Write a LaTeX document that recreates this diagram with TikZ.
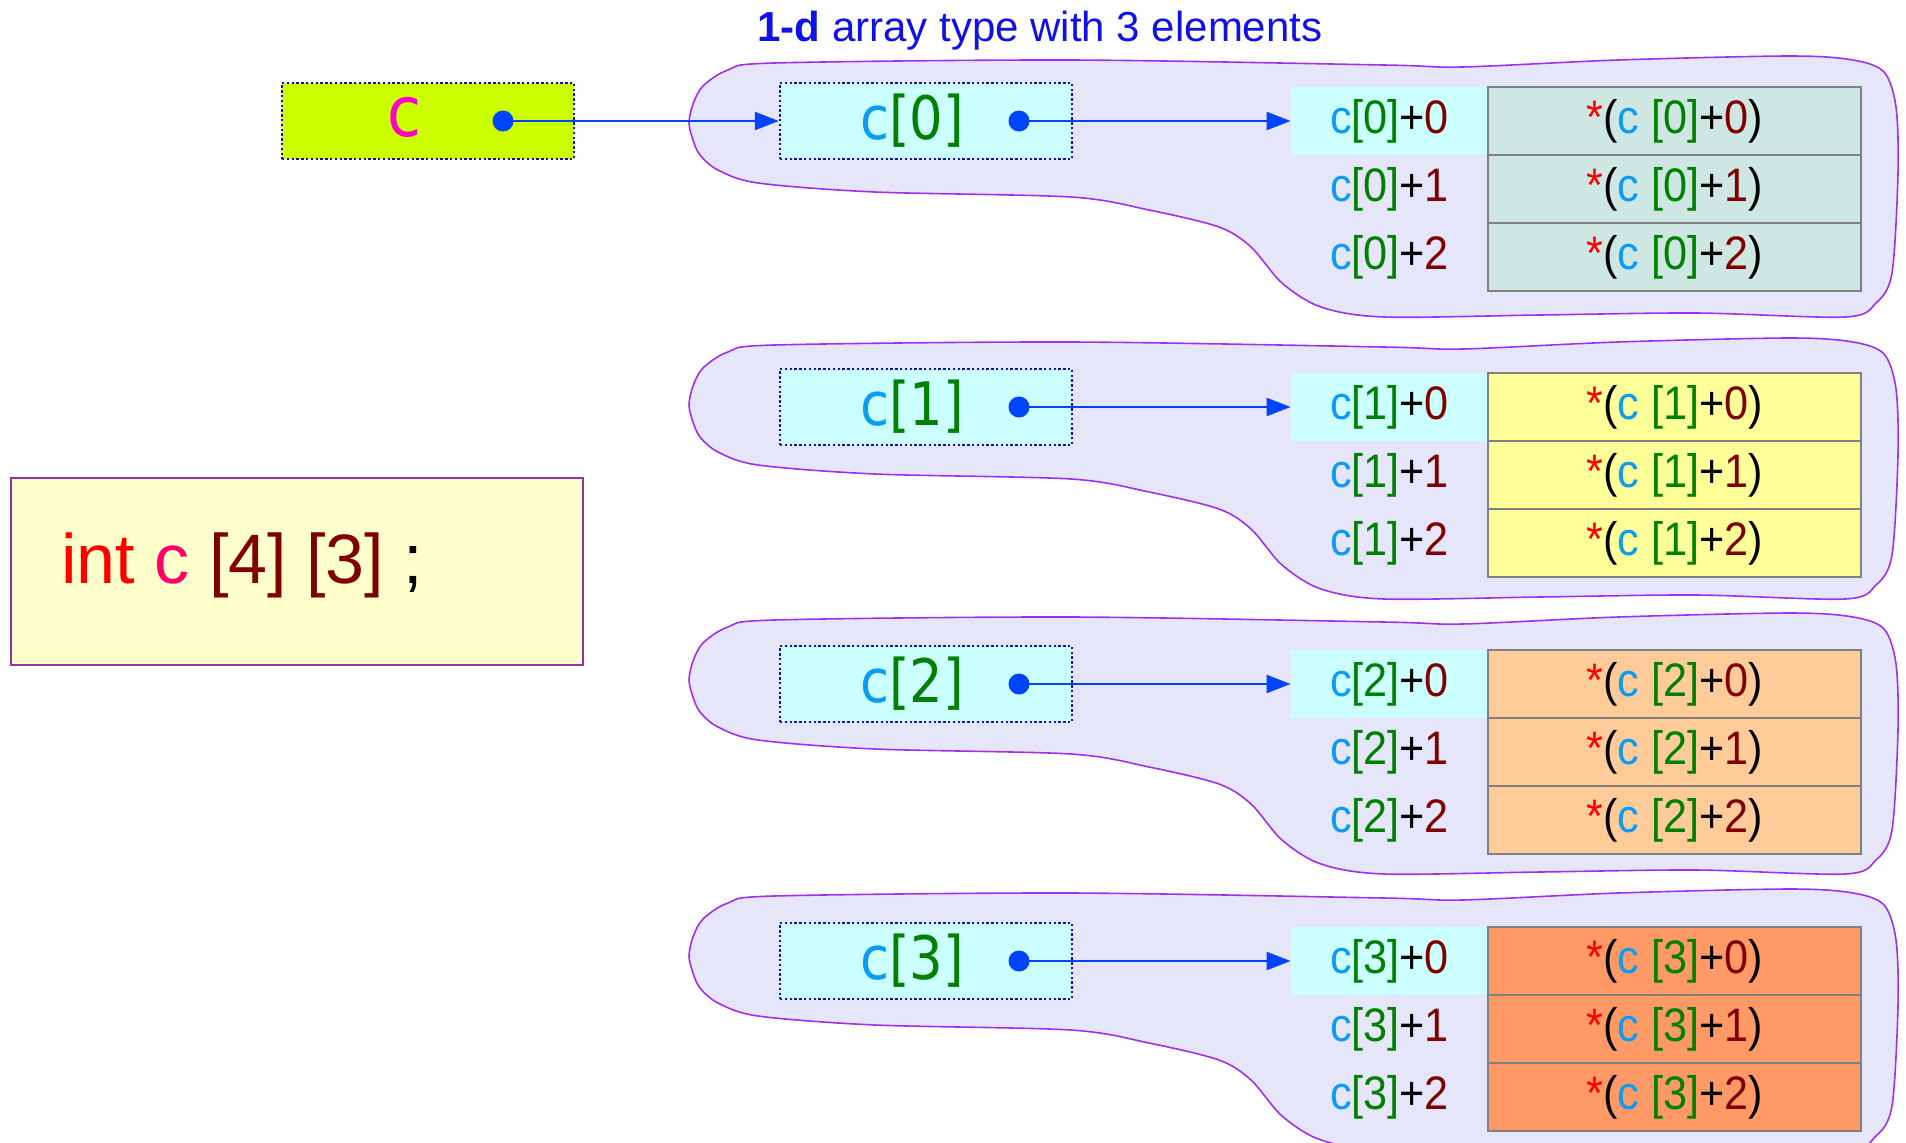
\documentclass[tikz,border=0pt]{standalone}
\usepackage{fontspec}
\setmainfont{Liberation Sans}
\newfontfamily\narrowsans[FakeStretch=0.92]{Liberation Sans}
\newfontfamily\bigfont[FakeStretch=0.88]{DejaVu Sans}
\usetikzlibrary{arrows.meta}
\definecolor{titleblue}{HTML}{1010E8}
\definecolor{cboxfill}{HTML}{CCFF00}
\definecolor{boxline}{HTML}{1010C0}
\definecolor{magc}{HTML}{FF00CC}
\definecolor{cyanfill}{HTML}{CCFFFF}
\definecolor{cblue}{HTML}{0A9BF5}
\definecolor{cgreen}{HTML}{008000}
\definecolor{dred}{HTML}{800000}
\definecolor{arrowblue}{HTML}{0044FF}
\definecolor{rowA}{HTML}{CFE7E3}
\definecolor{rowB}{HTML}{FFFF99}
\definecolor{rowC}{HTML}{FFCC99}
\definecolor{rowD}{HTML}{FF9966}
\definecolor{blobfill}{HTML}{E6E6FA}
\definecolor{blobline}{HTML}{A030F0}
\definecolor{intfill}{HTML}{FFFFCC}
\definecolor{intline}{HTML}{993399}
\definecolor{cpink}{HTML}{FF0066}
\newcommand\celllbl[2]{\textcolor{cblue}{c}\textcolor{cgreen}{[#1]}+\textcolor{dred}{#2}}
\newcommand\cellval[2]{\textcolor{red}{*}(\textcolor{cblue}{c} \textcolor{cgreen}{[#1]}+\textcolor{dred}{#2})}
\begin{document}
\begin{tikzpicture}[x=0.5pt,y=-0.5pt,
  ptrbox/.style={draw=boxline, line width=1.2pt, dash pattern=on 1.2pt off 1.2pt, minimum width=146pt, minimum height=38pt, inner sep=0pt},
  dotnode/.style={circle, fill=arrowblue, inner sep=0pt, minimum size=10.5pt},
  arr/.style={draw=arrowblue, line width=1.1pt, -{Triangle[length=12pt,width=9pt]}},
  lblcell/.style={minimum width=98.5pt, minimum height=34pt, inner sep=0pt, font=\narrowsans\fontsize{23.5pt}{27pt}\selectfont},
  valcell/.style={draw=gray, line width=0.6pt, minimum width=186.5pt, minimum height=34pt, inner sep=0pt, font=\narrowsans\fontsize{23.5pt}{27pt}\selectfont},
  blob/.style={fill=blobfill, draw=blobline, line width=0.8pt},
  bigtext/.style={inner sep=0pt, font=\bigfont\fontsize{30pt}{34pt}\selectfont}
]
\useasboundingbox (0,0) rectangle (1906,1142);

% title
\node[text=titleblue, font=\fontsize{21pt}{25pt}\selectfont, inner sep=0pt] (title) at (1040,31) {\textbf{1-d} array type with 3 elements};

% groups
\foreach \g/\Y/\B/\col in {0/121/0/rowA,1/407/282/rowB,2/684/557/rowC,3/961/833/rowD}{
  \draw[blob, shift={(0,\B)}] plot[smooth cycle, tension=0.5] coordinates {
    (689,123) (693,104) (703,86) (728,70) (774,63) (1071,60) (1384,65) (1462,67) (1618,60) (1790,56) (1853,60) (1884,72) (1896,107) (1898,173) (1892,273) (1876,303) (1845,317) (1696,313) (1540,315) (1384,317) (1321,307) (1282,283) (1251,247) (1219,227) (1149,210) (1071,197) (875,192) (758,183) (718,170) (700,155) (693,140)};
  \node[ptrbox, fill=cyanfill] (b\g) at (926,\Y) {};
  \node[bigtext] (t\g) at (912,\Y) {\textcolor{cblue}{c}\textcolor{cgreen}{[\g]}};
  \node[dotnode] (d\g) at (1019,\Y) {};
  \node[lblcell, fill=cyanfill] (l\g0) at (1389.5,\Y) {\celllbl{\g}{0}};
  \node[lblcell] (l\g1) at (1389.5,\Y+68) {\celllbl{\g}{1}};
  \node[lblcell] (l\g2) at (1389.5,\Y+136) {\celllbl{\g}{2}};
  \node[valcell, fill=\col] (v\g0) at (1674.5,\Y) {\cellval{\g}{0}};
  \node[valcell, fill=\col] (v\g1) at (1674.5,\Y+68) {\cellval{\g}{1}};
  \node[valcell, fill=\col] (v\g2) at (1674.5,\Y+136) {\cellval{\g}{2}};
  \draw[arr] (d\g.center) -- (l\g0.west);
}

% pointer c
\node[ptrbox, fill=cboxfill] (cb) at (428,121) {};
\node[inner sep=0pt, font=\bigfont\fontsize{35pt}{40pt}\selectfont, text=magc] (ct) at (404,117) {c};
\node[dotnode] (dc) at (503,121) {};
\draw[arr] (dc.center) -- (b0.west);

% declaration
\node[draw=intline, fill=intfill, line width=0.8pt, minimum width=286pt, minimum height=93.5pt, inner sep=0pt] (decl) at (297,571.5) {};
\node[anchor=west, inner sep=0pt, font=\fontsize{35pt}{40pt}\selectfont] (decltext) at (61,565) {\textcolor{red}{int} \textcolor{cpink}{c} \textcolor{dred}{[4] [3]} ;};
\end{tikzpicture}
\end{document}
